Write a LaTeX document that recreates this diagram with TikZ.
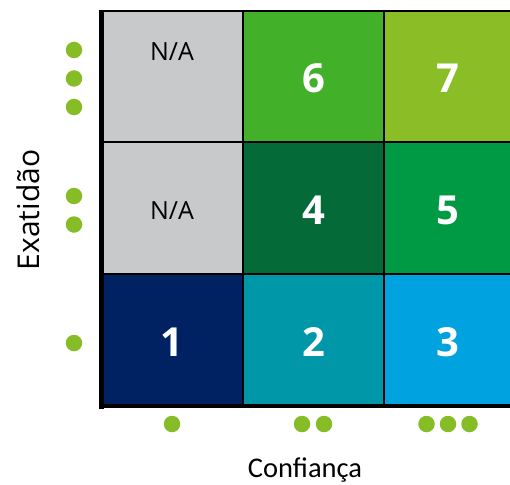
\documentclass[tikz,border=0pt]{standalone}
\usepackage{fontspec}
\setmainfont{Open Sans}
\newfontfamily\calib{Carlito}
\definecolor{cgray}{RGB}{200,201,203}
\definecolor{cg6}{RGB}{67,176,42}
\definecolor{cg7}{RGB}{138,189,38}
\definecolor{cg4}{RGB}{4,106,56}
\definecolor{cg5}{RGB}{0,154,68}
\definecolor{cb1}{RGB}{0,33,98}
\definecolor{cb2}{RGB}{0,152,168}
\definecolor{cb3}{RGB}{0,163,224}
\definecolor{dotg}{RGB}{134,188,37}
\begin{document}
\begin{tikzpicture}[x=1pt,y=-1pt,
  numtxt/.style={text=white,font=\fontsize{40}{42}\selectfont\bfseries,inner sep=0pt},
  natxt/.style={text=black,font=\fontsize{25}{28}\selectfont,inner sep=0pt},
  gdot/.style={circle,fill=dotg,draw=none,minimum size=16.5pt,inner sep=0pt},
  thinline/.style={line width=2pt,black},
  thickline/.style={line width=4.5pt,black}]
\useasboundingbox (0,0) rectangle (510,484);
% cells
\fill[cgray] (101,11) rectangle (243,142);
\fill[cg6] (243,11) rectangle (384,142);
\fill[cg7] (384,11) rectangle (510,142);
\fill[cgray] (101,142) rectangle (243,274);
\fill[cg4] (243,142) rectangle (384,274);
\fill[cg5] (384,142) rectangle (510,274);
\fill[cb1] (101,274) rectangle (243,406);
\fill[cb2] (243,274) rectangle (384,406);
\fill[cb3] (384,274) rectangle (510,406);
% grid corners
\coordinate (tl) at (101,11);
\coordinate (tr) at (510,11);
\coordinate (br) at (510,406);
\coordinate (h1l) at (101,142); \coordinate (h1r) at (510,142);
\coordinate (h2l) at (101,274); \coordinate (h2r) at (510,274);
\coordinate (v1t) at (243,11); \coordinate (v1b) at (243,406);
\coordinate (v2t) at (384,11); \coordinate (v2b) at (384,406);
\draw[thinline] (h1l) -- (h1r);
\draw[thinline] (h2l) -- (h2r);
\draw[thinline] (v1t) -- (v1b);
\draw[thinline] (v2t) -- (v2b);
\draw[thinline] (tl) -- (tr);
\coordinate (lt) at (101.5,10);
\coordinate (lb) at (101.5,408.5);
\coordinate (bll) at (99.5,406);
\draw[thickline] (lt) -- (lb);
\draw[thickline] (bll) -- (br);
% labels in cells
\node[natxt] (na1) at (172,52) {N/A};
\node[natxt] (na2) at (172,211) {N/A};
\node[numtxt] (n6) at (314,78) {6};
\node[numtxt] (n7) at (448,78) {7};
\node[numtxt] (n4) at (314,210) {4};
\node[numtxt] (n5) at (448,210) {5};
\node[numtxt] (n1) at (172,342) {1};
\node[numtxt] (n2) at (314,342) {2};
\node[numtxt] (n3) at (448,342) {3};
% left dots
\node[gdot] (ld1) at (74,50) {};
\node[gdot] (ld2) at (74,78.5) {};
\node[gdot] (ld3) at (74,107) {};
\node[gdot] (ld4) at (74,196) {};
\node[gdot] (ld5) at (74,224.5) {};
\node[gdot] (ld6) at (74,343) {};
% bottom dots
\node[gdot] (bd1) at (172,424) {};
\node[gdot] (bd2) at (302,424) {};
\node[gdot] (bd3) at (324,424) {};
\node[gdot] (bd4) at (426.5,424) {};
\node[gdot] (bd5) at (448,424) {};
\node[gdot] (bd6) at (469.5,424) {};
% axis titles
\node[rotate=90,font=\fontsize{30}{33}\selectfont,inner sep=0pt] (ylab) at (28,210) {Exatidão};
\node[font=\calib\fontsize{28.5}{32}\selectfont,inner sep=0pt] (xlab) at (305,470) {Confiança};
\end{tikzpicture}
\end{document}
